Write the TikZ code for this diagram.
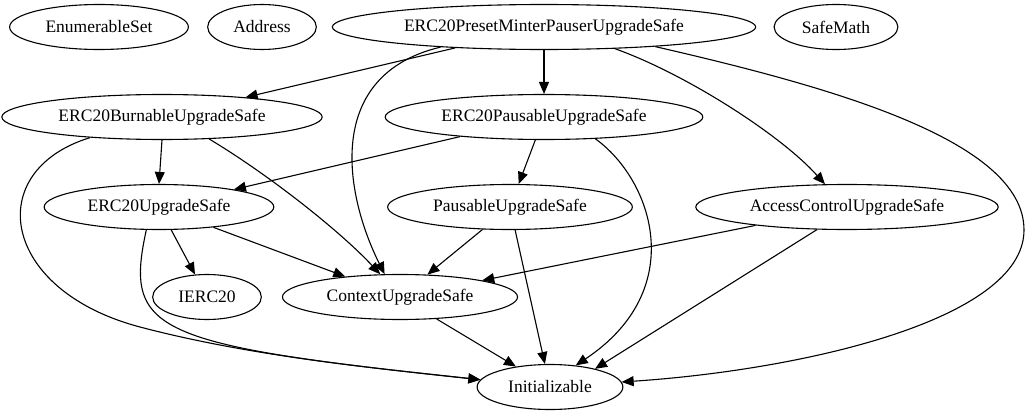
\documentclass[tikz,border=0pt]{standalone}
\usepackage{fontspec}
\setmainfont{Liberation Serif}
\usetikzlibrary{arrows.meta,shapes.geometric}
\tikzset{
  % Contract ellipse
  cnode/.style={ellipse,draw,line width=1.1pt,
    inner xsep=9.75pt,inner ysep=0pt,minimum height=45pt,
    font=\fontsize{17.5}{21}\selectfont},
  % Dependency arrow
  dep/.style={-{Triangle[length=12pt,width=10pt]},line width=1.1pt},
}

\begin{document}
\begin{tikzpicture}[x=1pt,y=-1pt]
  \useasboundingbox (0,0) rectangle (1029,415);

  %% --- TOP ROW ---
  \node[cnode] (enumset) at (99,27) {EnumerableSet};
  \node[cnode] (address) at (262,27) {Address};
  \node[cnode] (preset) at (544,27) {ERC20PresetMinterPauserUpgradeSafe};
  \node[cnode] (safemath) at (836,27) {SafeMath};

  %% --- SECOND ROW ---
  \node[cnode] (burnable) at (162,117) {ERC20BurnableUpgradeSafe};
  \node[cnode] (pausable) at (544,117) {ERC20PausableUpgradeSafe};

  %% --- THIRD ROW ---
  \node[cnode] (erc20) at (159,207) {ERC20UpgradeSafe};
  \node[cnode] (pauser) at (510,207) {PausableUpgradeSafe};
  \node[cnode] (access) at (847,207) {AccessControlUpgradeSafe};

  %% --- BOTTOM ROWS ---
  \node[cnode] (ierc20) at (207,297) {IERC20};
  \node[cnode] (context) at (400,297) {ContextUpgradeSafe};
  \node[cnode] (init) at (550,387) {Initializable};

  % bend points of the two long curves
  \coordinate (rbend) at (1024,230);
  \coordinate (lbend) at (140,327);

  % From the preset
  \draw[dep] (preset) -- (burnable);
  \draw[dep] (preset) -- (pausable);
  \draw[dep] (preset.191.6) .. controls +(-117,28) and +(-40,-80) .. (context.124);
  \draw[dep] (preset.-17.4) .. controls +(70,25) and +(-45,-50) .. (access.134.7);
  \draw[dep] (preset.-10.9) .. controls +(174,40) and +(0,-90) .. (rbend)
    .. controls +(0,90) and +(180,-12) .. (init.4);

  % From the burnable token
  \draw[dep] (burnable.south) -- (erc20.north);
  \draw[dep] (burnable.-25.6) .. controls +(60,36) and +(-40,-43) .. (context.131.3);
  \draw[dep] (burnable.196.4) .. controls +(-108,33) and +(-140,-37) .. (lbend)
    .. controls +(110,29) and +(-110,-12) .. (init.174.2);

  % From the pausable token
  \draw[dep] (pausable) -- (erc20);
  \draw[dep] (pausable) -- (pauser);
  \draw[dep] (pausable.-23.6) .. controls +(57,41) and +(114,-76) .. (init.40);

  % Third row
  \draw[dep] (erc20) -- (ierc20);
  \draw[dep] (erc20) -- (context);
  \draw[dep] (erc20.241.8) .. controls +(-22,101) and +(-330,-35) .. (init.174.8);
  \draw[dep] (pauser) -- (context);
  \draw[dep] (pauser) -- (init);
  \draw[dep] (access) -- (context);
  \draw[dep] (access.217.3) -- (init.22.9);

  \draw[dep] (context) -- (init);
\end{tikzpicture}
\end{document}
